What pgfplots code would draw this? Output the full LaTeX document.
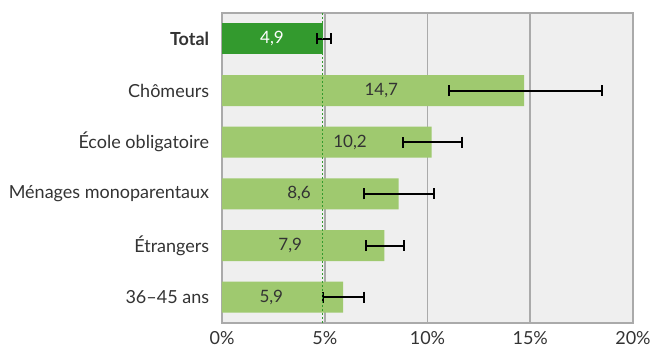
\documentclass[border=0pt]{standalone}
\usepackage{pgfplots}
\pgfplotsset{compat=1.18}
\usepackage{fontspec}
\setmainfont{Lato}
\definecolor{darkg}{HTML}{339A2E}
\definecolor{lightg}{HTML}{9FC96F}
\definecolor{bgc}{HTML}{EFEFEF}
\definecolor{gridc}{HTML}{AAAAAA}
\definecolor{txt}{HTML}{333333}
\begin{document}
\begin{tikzpicture}
\fontsize{17bp}{20bp}\selectfont
\path[use as bounding box] (-222bp,-27bp) rectangle (428bp,323bp);
\begin{axis}[
  at={(0,0)}, anchor=south west,
  scale only axis, width=411bp, height=310bp,
  xmin=0, xmax=20, ymin=-0.5, ymax=5.5, y dir=reverse,
  xbar, bar width=31bp, bar shift=0pt,
  axis background/.style={fill=bgc},
  axis line style={gridc, line width=2bp},
  xtick={0,5,10,15,20},
  xticklabels={0\%,5\%,10\%,15\%,20\%},
  ytick={0,1,2,3,4,5},
  yticklabels={\textbf{Total},Chômeurs,École obligatoire,Ménages monoparentaux,Étrangers,36–45 ans},
  xmajorgrids, grid style={gridc, line width=1.6bp},
  major tick length=0pt,
  tick style={draw=none},
  ticklabel style={font=\fontsize{18bp}{21bp}\selectfont, text=txt},
  yticklabel style={xshift=-7bp},
  xticklabel style={yshift=-8bp, inner sep=0pt},
  clip=false,
]
\addplot[fill=darkg, draw=none,
  error bars/.cd, x dir=both, x explicit,
  error bar style={draw=black, line width=2bp},
  error mark options={rotate=90, mark size=5.5bp, line width=2bp, draw=black}]
  coordinates {(4.9,0) += (0.40,0) -= (0.29,0)};
\addplot[fill=lightg, draw=none,
  error bars/.cd, x dir=both, x explicit,
  error bar style={draw=black, line width=2bp},
  error mark options={rotate=90, mark size=5.5bp, line width=2bp, draw=black}]
  coordinates {
  (14.7,1) += (3.80,0) -= (3.64,0)
  (10.2,2) += (1.48,0) -= (1.40,0)
  (8.6,3)  += (1.70,0) -= (1.71,0)
  (7.9,4)  += (0.95,0) -= (0.90,0)
  (5.9,5)  += (1.01,0) -= (0.97,0)
  };
\addplot[sharp plot, darkg, dash pattern=on 2bp off 2bp, line width=1bp, forget plot] coordinates {(4.9,-0.5) (4.9,5.5)};
\node[text=white] at (axis cs:2.43,0) {4,9};
\node[text=txt] at (axis cs:7.75,1) {14,7};
\node[text=txt] at (axis cs:6.23,2) {10,2};
\node[text=txt] at (axis cs:3.75,3) {8,6};
\node[text=txt] at (axis cs:3.32,4) {7,9};
\node[text=txt] at (axis cs:2.4,5) {5,9};
\end{axis}
\end{tikzpicture}
\end{document}
